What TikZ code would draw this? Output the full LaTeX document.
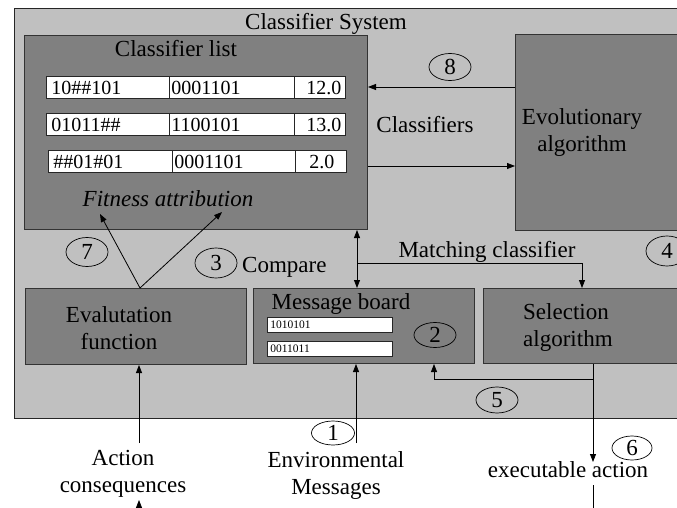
\documentclass[tikz,border=0pt]{standalone}
\usepackage{fontspec}
\setmainfont{Liberation Serif}
\usetikzlibrary{arrows.meta,shapes.geometric}
\definecolor{lightbg}{HTML}{C0C0C0}
\definecolor{boxgray}{HTML}{808080}
\begin{document}
\begin{tikzpicture}[x=1pt,y=-1pt,
  big/.style={font=\fontsize{23}{27}\selectfont},
  sysbox/.style={draw=black!85,line width=1pt,fill=lightbg,anchor=north west,inner sep=0pt},
  graybox/.style={draw=black!80,line width=1pt,fill=boxgray,anchor=north west,inner sep=0pt},
  cell/.style={draw=black!85,line width=0.8pt,fill=white,anchor=north west,inner ysep=0pt,
    minimum height=22pt,text height=14pt,text depth=0pt,font=\fontsize{20}{24}\selectfont},
  smallcell/.style={draw=black!85,line width=0.8pt,fill=white,anchor=north west,inner ysep=0pt,
    inner xsep=3pt,minimum height=15pt,text height=7.5pt,text depth=0pt,text width=119pt,align=left,
    font=\fontsize{11.5}{13}\selectfont},
  num/.style={draw,ellipse,line width=0.7pt,minimum width=42pt,minimum height=27pt,inner sep=0pt,big},
  arr/.style={line width=0.8pt,-{Triangle[length=8pt,width=6pt]}},
  arrboth/.style={line width=0.8pt,{Triangle[length=8pt,width=6pt]}-{Triangle[length=8pt,width=6pt]}},
  ln/.style={line width=0.8pt}]
\clip (0,0) rectangle (677,508);
% outer system box
\node[sysbox,minimum width=700pt,minimum height=410pt] (sys) at (14,8) {};
\node[big,anchor=base] (systitle) at (326,30) {Classifier System};
% classifier list
\node[graybox,minimum width=343pt,minimum height=194pt] (cl) at (24,35) {};
\node[big,anchor=base] (cltitle) at (176,57) {Classifier list};
\node[cell,minimum width=123pt,text width=113pt,inner xsep=5pt,align=left] (r1a) at (46,76) {10\#\#101};
\node[cell,minimum width=125pt,text width=121pt,inner xsep=2pt,align=left] (r1b) at (169,76) {0001101};
\node[cell,minimum width=51pt,text width=27pt,inner xsep=12pt,align=right] (r1c) at (294,76) {12.0};
\node[cell,minimum width=123pt,text width=113pt,inner xsep=5pt,align=left] (r2a) at (46,113) {01011\#\#};
\node[cell,minimum width=125pt,text width=121pt,inner xsep=2pt,align=left] (r2b) at (169,113) {1100101};
\node[cell,minimum width=51pt,text width=27pt,inner xsep=12pt,align=right] (r2c) at (294,113) {13.0};
\node[cell,minimum width=124pt,text width=114pt,inner xsep=5pt,align=left] (r3a) at (48,150) {\#\#01\#01};
\node[cell,minimum width=123pt,text width=119pt,inner xsep=2pt,align=left] (r3b) at (172,150) {0001101};
\node[cell,minimum width=51pt,text width=27pt,inner xsep=12pt,align=right] (r3c) at (295,150) {2.0};
\node[big,anchor=base,font=\fontsize{23}{27}\selectfont\itshape] (fit) at (168,206) {Fitness attribution};
% evolutionary algorithm
\node[graybox,minimum width=200pt,minimum height=196pt] (evo) at (515,34) {};
\node[big,align=center,inner sep=0pt] (evotext) at (582,133) {Evolutionary\\algorithm};
\node[big,anchor=base] (clsf) at (425,132) {Classifiers};
% lower boxes
\node[graybox,minimum width=221pt,minimum height=76pt] (eval) at (25,288) {};
\node[big,align=center,inner sep=0pt] (evaltext) at (119,328.5) {Evalutation\\function};
\node[graybox,minimum width=221pt,minimum height=75pt] (mb) at (253,288) {};
\node[big,anchor=base] (mbtext) at (341,309) {Message board};
\node[smallcell] (m1) at (267,317) {1010101};
\node[smallcell] (m2) at (267,341) {0011011};
\node[graybox,minimum width=220pt,minimum height=75pt] (sel) at (483,288) {};
\node[big,align=left,anchor=west,inner sep=0pt] (seltext) at (523,327) {Selection\\algorithm};
% other texts
\node[big,anchor=base west,inner sep=0pt] (cmp) at (242,272) {Compare};
\node[big,anchor=base] (match) at (487,257) {Matching classifier};
\node[big,anchor=base] (exe) at (568,477) {executable action};
\node[big,align=center,inner sep=0pt] (env) at (336,475) {Environmental\\Messages};
\node[big,align=center,inner sep=0pt] (act) at (123,474) {Action\\consequences};
% numbers
\node[num] (n8) at (450,67) {8};
\node[num,minimum height=29pt] (n7) at (87,252) {7};
\node[num,minimum height=30pt] (n3) at (216,263) {3};
\node[num,minimum height=30pt] (n4) at (667,251) {4};
\node[num,minimum height=25pt] (n2) at (435,335) {2};
\node[num,minimum height=26pt] (n5) at (497,400) {5};
\node[num,minimum width=40pt,minimum height=24pt] (n6) at (632,448) {6};
\node[num,minimum width=43pt,minimum height=24pt] (n1) at (333,433) {1};
% connectors
\draw[arr] (evo.west |- 0,87) -- (cl.east |- 0,87);
\draw[arr] (cl.east |- 0,166) -- (evo.west |- 0,166);
\coordinate (apex) at (eval.north -| 140,0);
\coordinate (fitL) at (100,214);
\coordinate (fitR) at (222,212);
\draw[arr] (apex) -- (fitL);
\draw[arr] (apex) -- (fitR);
\draw[arrboth] (cl.south -| 357,0) -- (mb.north -| 357,0);
\coordinate (branch) at (357,263);
\draw[arr] (branch) -| (sel.north -| 582,0);
\coordinate (acttip) at (593,462);
\draw[arr] (sel.south -| 593,0) -- (acttip);
\coordinate (fb) at (593,379);
\draw[arr] (fb) -| (mb.south -| 434,0);
\coordinate (actlow) at (593,485);
\coordinate (actend) at (593,515);
\draw[ln] (actlow) -- (actend);
\coordinate (envstart) at (356,443);
\draw[arr] (envstart) -- (mb.south -| 356,0);
\coordinate (acstart) at (139,443);
\draw[arr] (acstart) -- (eval.south -| 139,0);
\coordinate (botstart) at (139,520);
\coordinate (bottip) at (139,500);
\draw[arr] (botstart) -- (bottip);
\end{tikzpicture}
\end{document}
